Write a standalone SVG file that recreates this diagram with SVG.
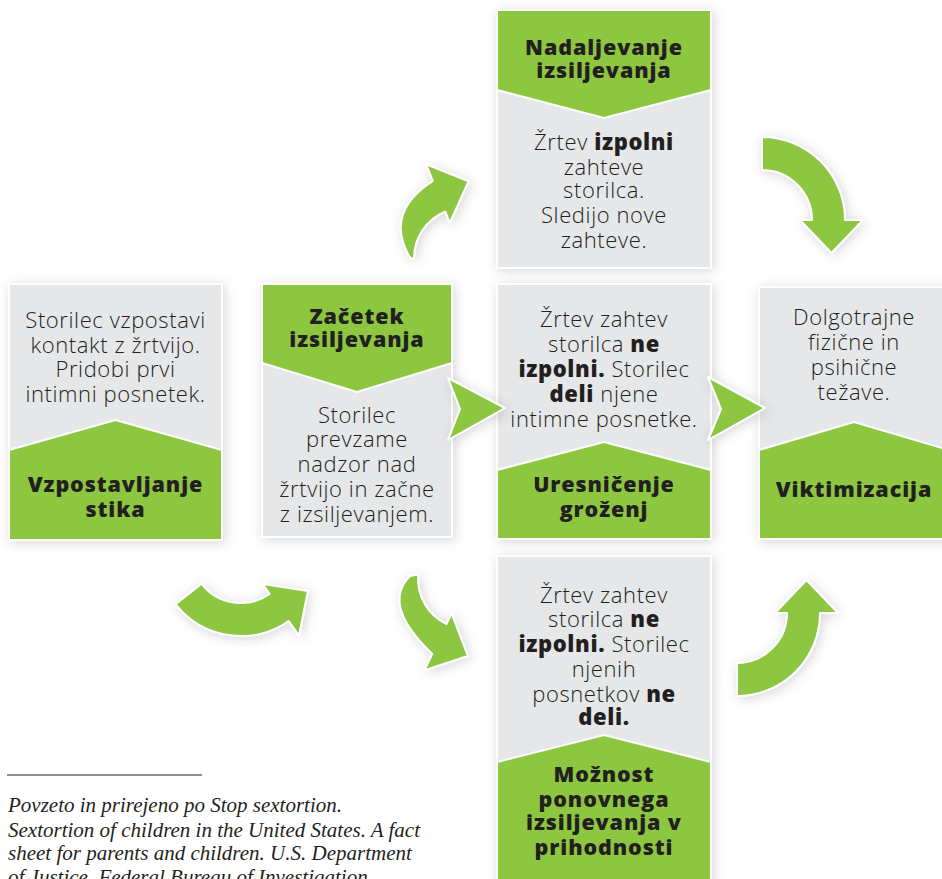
<svg xmlns="http://www.w3.org/2000/svg" width="942" height="879" viewBox="0 0 942 879">
<defs>
<filter id="sh" x="-20%" y="-20%" width="140%" height="140%">
<feDropShadow dx="2" dy="2" stdDeviation="6" flood-color="#000" flood-opacity="0.16"/>
</filter>
<style>
.gray{fill:#e6e7e8;stroke:#fff;stroke-width:2}
.grn{fill:#8dc63f;stroke:#fff;stroke-width:2}
.arr{fill:#8dc63f;stroke:#fff;stroke-width:2;stroke-linejoin:round;filter:url(#sh)}
.body{font-family:"Open Sans","Liberation Sans",sans-serif;font-weight:300;font-size:22px;letter-spacing:0.6px;fill:#231f20;text-anchor:middle}
.hd{font-family:"Open Sans","Liberation Sans",sans-serif;font-weight:800;font-size:21.5px;letter-spacing:0.9px;fill:#231f20;text-anchor:middle}
.b{font-weight:800}
.foot{font-family:"Liberation Serif",serif;font-style:italic;font-size:21px;fill:#231f20}
</style>
</defs>
<rect width="942" height="879" fill="#fff"/>

<g id="n1">
<rect class="gray" x="9" y="284" width="213" height="256" filter="url(#sh)"/>
<polygon class="grn" points="9,450 115.5,420 222,450 222,540 9,540"/>
<text class="body"><tspan x="115.5" y="328">Storilec vzpostavi</tspan><tspan x="115.5" y="353">kontakt z žrtvijo.</tspan><tspan x="115.5" y="377">Pridobi prvi</tspan><tspan x="115.5" y="402">intimni posnetek.</tspan></text>
<text class="hd"><tspan x="115.5" y="492">Vzpostavljanje</tspan><tspan x="115.5" y="517">stika</tspan></text>
</g>

<g id="n2">
<rect class="gray" x="262" y="284" width="190" height="253" filter="url(#sh)"/>
<polygon class="grn" points="262,284 452,284 452,363 357,392 262,363"/>
<text class="hd"><tspan x="357" y="324">Začetek</tspan><tspan x="357" y="347">izsiljevanja</tspan></text>
<text class="body"><tspan x="357" y="423">Storilec</tspan><tspan x="357" y="447">prevzame</tspan><tspan x="357" y="472">nadzor nad</tspan><tspan x="357" y="497">žrtvijo in začne</tspan><tspan x="357" y="522">z izsiljevanjem.</tspan></text>
</g>

<g id="n3">
<rect class="gray" x="497" y="10" width="214" height="258" filter="url(#sh)"/>
<polygon class="grn" points="497,10 711,10 711,90 604,118 497,90"/>
<text class="hd"><tspan x="604" y="55">Nadaljevanje</tspan><tspan x="604" y="78">izsiljevanja</tspan></text>
<text class="body"><tspan x="604" y="150">Žrtev <tspan class="b">izpolni</tspan></tspan><tspan x="604" y="175">zahteve</tspan><tspan x="604" y="198">storilca.</tspan><tspan x="604" y="223">Sledijo nove</tspan><tspan x="604" y="248">zahteve.</tspan></text>
</g>

<g id="n4">
<rect class="gray" x="497" y="284" width="214" height="255" filter="url(#sh)"/>
<polygon class="grn" points="497,470 604,442 711,470 711,539 497,539"/>
<text class="body"><tspan x="604" y="327">Žrtev zahtev</tspan><tspan x="604" y="352">storilca <tspan class="b">ne</tspan></tspan><tspan x="604" y="377"><tspan class="b">izpolni.</tspan> Storilec</tspan><tspan x="604" y="402"><tspan class="b">deli</tspan> njene</tspan><tspan x="604" y="427">intimne posnetke.</tspan></text>
<text class="hd"><tspan x="604" y="492">Uresničenje</tspan><tspan x="604" y="517">groženj</tspan></text>
</g>

<g id="n5">
<rect class="gray" x="759" y="287" width="192" height="252" filter="url(#sh)"/>
<polygon class="grn" points="759,450 854,422 949,450 949,539 759,539"/>
<text class="body"><tspan x="854" y="325">Dolgotrajne</tspan><tspan x="854" y="350">fizične in</tspan><tspan x="854" y="375">psihične</tspan><tspan x="854" y="400">težave.</tspan></text>
<text class="hd"><tspan x="854" y="497">Viktimizacija</tspan></text>
</g>

<g id="n6">
<rect class="gray" x="497" y="556" width="214" height="340" filter="url(#sh)"/>
<polygon class="grn" points="497,762 604,735 711,762 711,896 497,896"/>
<text class="body"><tspan x="604" y="603">Žrtev zahtev</tspan><tspan x="604" y="627">storilca <tspan class="b">ne</tspan></tspan><tspan x="604" y="652"><tspan class="b">izpolni.</tspan> Storilec</tspan><tspan x="604" y="677">njenih</tspan><tspan x="604" y="702">posnetkov <tspan class="b">ne</tspan></tspan><tspan x="604" y="725" class="b">deli.</tspan></text>
<text class="hd"><tspan x="604" y="782">Možnost</tspan><tspan x="604" y="807">ponovnega</tspan><tspan x="604" y="830">izsiljevanja v</tspan><tspan x="604" y="855">prihodnosti</tspan></text>
</g>

<g id="connectors">
<polygon class="arr" points="448,378 505,408 448,440 460,409"/>
<polygon class="arr" points="708,377 765,408 708,440 721,409"/>
<path class="arr" d="M175.6,604.1 A83,83 0 0 0 288.6,621 L299,635.7 L307.9,591 L262.8,584.1 L269.7,594 A50,50 0 0 1 201.6,583.8 Z"/>
<path class="arr" d="M411,259 Q382.5,213.5 432.9,181 L426.2,164.4 L468.6,181.2 L449.8,222.8 L445.3,211.6 A50,50 0 0 0 414,258 Z"/>
<path class="arr" d="M410,576 Q381,605 432.3,653.9 L424.5,670.2 L467.9,655.9 L451.6,613.3 L446.5,624.1 A50,50 0 0 1 418.2,574.6 Z"/>
<path class="arr" d="M762,137 A83,83 0 0 1 845,220 L863,220 L831.5,253 L800,220 L812,220 A50,50 0 0 0 762,170 Z"/>
<path class="arr" d="M737,696 A83,83 0 0 0 820,613 L838,613 L806.5,580 L775,613 L787,613 A50,50 0 0 1 737,663 Z"/>
</g>

<g id="footnote">
<line x1="7" y1="775" x2="202" y2="775" stroke="#231f20" stroke-width="1"/>
<text class="foot"><tspan x="8" y="812">Povzeto in prirejeno po Stop sextortion.</tspan><tspan x="8" y="837">Sextortion of children in the United States. A fact</tspan><tspan x="8" y="860">sheet for parents and children. U.S. Department</tspan><tspan x="8" y="884">of Justice. Federal Bureau of Investigation.</tspan></text>
</g>
</svg>
